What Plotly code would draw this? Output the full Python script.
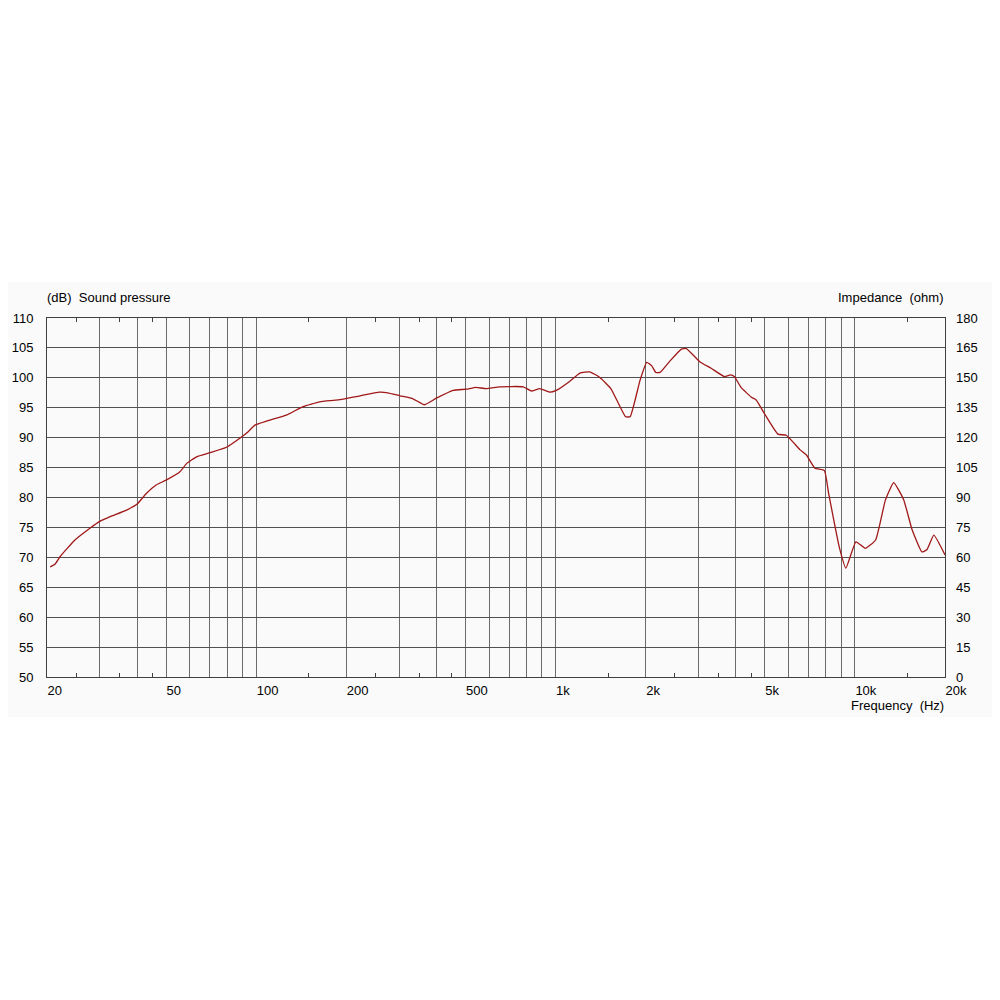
import plotly.graph_objects as go
import math

# ---- data ----
freq_hz = [20.5, 21.3, 22.1, 24.8, 27.9, 30, 32.5, 36.9, 40, 43, 46.3, 50, 55.6, 58.6, 63.2,
           70.2, 79.6, 88.1, 94, 99, 108.8, 126.6, 143.4, 163, 188, 222, 258, 275, 302, 334,
           365, 400, 455, 503, 542, 586, 650, 780, 830, 885, 956, 1005, 1114, 1206, 1300,
           1403, 1530, 1630, 1714, 1775, 1918, 2016, 2096, 2162, 2235, 2410, 2632, 2736,
           3030, 3310, 3670, 3842, 3960, 4165, 4500, 4680, 4990, 5530, 5900, 6550, 6890,
           7350, 7910, 8170, 8860, 9330, 10080, 10830, 11730, 12650, 13480, 14560, 15530,
           16760, 17420, 18350, 20000]
spl_db = [68.4, 68.9, 70.1, 72.9, 74.9, 76.0, 76.8, 77.9, 78.9, 80.7, 82.1, 82.9, 84.3, 85.7, 86.8,
          87.5, 88.4, 89.9, 91.0, 92.1, 92.8, 93.8, 95.2, 96.0, 96.3, 97.0, 97.6, 97.5, 97.0, 96.5,
          95.5, 96.6, 97.9, 98.1, 98.4, 98.2, 98.5, 98.5, 97.8, 98.2, 97.6, 97.9, 99.4, 100.8, 101.0,
          100.1, 98.2, 95.5, 93.5, 93.5, 99.7, 102.6, 102.0, 100.9, 100.9, 102.8, 104.8, 104.9,
          102.7, 101.6, 100.2, 100.5, 100.2, 98.4, 96.8, 96.3, 94.0, 90.6, 90.4, 88.0, 87.1,
          84.9, 84.5, 80.7, 71.8, 68.2, 72.6, 71.5, 72.9, 79.6, 82.5, 79.6, 74.6,
          70.9, 71.3, 73.7, 70.4]

label_freqs = [20, 50, 100, 200, 500, 1000, 2000, 5000, 10000, 20000]
label_text = ["20", "50", "100", "200", "500", "1k", "2k", "5k", "10k", "20k"]
grid_freqs = [30, 40, 50, 60, 70, 80, 90, 100, 200, 300, 400, 500, 600, 700, 800, 900, 1000,
              2000, 3000, 4000, 5000, 6000, 7000, 8000, 9000, 10000]
minor_tick_freqs = [25, 35, 45, 150, 250, 350, 450, 1500, 2500, 3500, 4500, 15000]

spl_range = [50, 110]
imp_range = [0, 180]

FONT = "Liberation Sans, Arial, sans-serif"
xr = [math.log10(20), math.log10(20000)]

fig = go.Figure()
fig.add_trace(go.Scatter(x=freq_hz, y=spl_db, mode="lines",
                         line=dict(color="#a01818", width=1.3, shape="spline", smoothing=0.4),
                         showlegend=False, hoverinfo="skip"))
# invisible traces to activate the overlay axes
fig.add_trace(go.Scatter(x=freq_hz, y=spl_db, mode="lines", xaxis="x2", yaxis="y",
                         line=dict(color="rgba(0,0,0,0)", width=0),
                         showlegend=False, hoverinfo="skip"))
fig.add_trace(go.Scatter(x=freq_hz, y=[v * 3 - 150 for v in spl_db], mode="lines",
                         xaxis="x", yaxis="y2",
                         line=dict(color="rgba(0,0,0,0)", width=0),
                         showlegend=False, hoverinfo="skip"))

fig.update_layout(
    width=992, height=992,
    margin=dict(l=39, r=55, t=310, b=323, autoexpand=False),
    paper_bgcolor="white", plot_bgcolor="white",
    font=dict(family=FONT, size=13, color="#000000"),
    xaxis=dict(type="log", range=xr, tickmode="array", tickvals=label_freqs,
               ticktext=label_text, ticks="", showgrid=False, automargin=False,
               minor=dict(tickmode="array", tickvals=grid_freqs, showgrid=True,
                          gridcolor="#6a6a6a", gridwidth=1, ticks=""),
               showline=True, linecolor="#404040", linewidth=1, mirror=True,
               ticklabelposition="outside right", ticklabelstandoff=1,
               zeroline=False, fixedrange=True),
    xaxis2=dict(type="log", range=xr, overlaying="x", anchor="y", tickmode="array",
                tickvals=minor_tick_freqs, ticks="inside", ticklen=4, tickcolor="#404040",
                showticklabels=False, showgrid=False, showline=True, linecolor="#404040",
                mirror="ticks", side="bottom", automargin=False),
    yaxis=dict(range=spl_range, tickmode="linear", tick0=50, dtick=5, ticks="",
               showgrid=True, gridcolor="#505050", gridwidth=1, automargin=False,
               showline=True, linecolor="#404040", mirror=True, zeroline=False,
               ticklabelstandoff=10),
    yaxis2=dict(range=imp_range, tickmode="linear", tick0=0, dtick=15, ticks="",
                overlaying="y", side="right", showgrid=False, zeroline=False,
                ticklabelstandoff=10, automargin=False),
    shapes=[dict(type="rect", xref="paper", yref="paper",
                 x0=-39 / 898, x1=1 + 55 / 898, y0=-40 / 359, y1=1 + 36 / 359,
                 fillcolor="#fafafa", line=dict(width=0), layer="below")],
    annotations=[
        dict(text="(dB)  Sound pressure", xref="paper", yref="paper", x=-2 / 898, y=1 + 21 / 359,
             xanchor="left", yanchor="middle", showarrow=False, font=dict(size=13)),
        dict(text="Impedance  (ohm)", xref="paper", yref="paper", x=1 + 1 / 898, y=1 + 21 / 359,
             xanchor="right", yanchor="middle", showarrow=False, font=dict(size=13)),
        dict(text="Frequency  (Hz)", xref="paper", yref="paper", x=1 + 1 / 898, y=-28 / 359,
             xanchor="right", yanchor="middle", showarrow=False, font=dict(size=13)),
    ],
)

fig.write_html("out.html")
